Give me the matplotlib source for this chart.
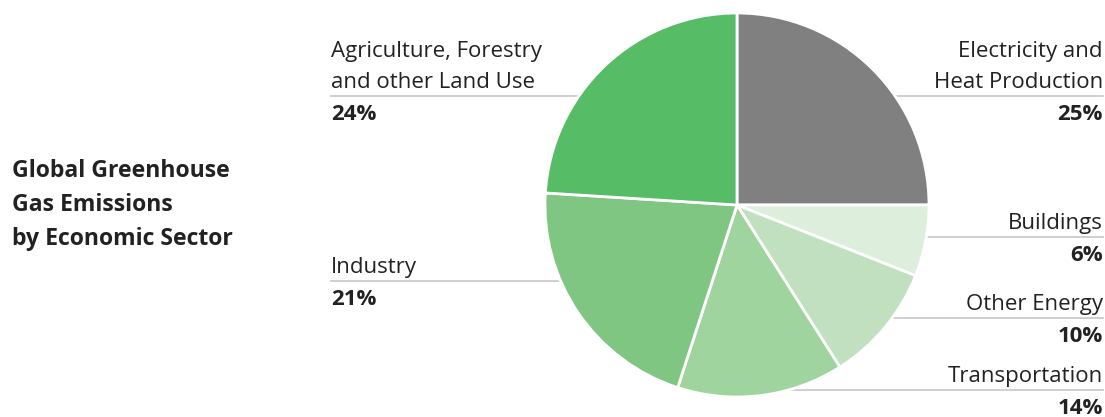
import matplotlib.pyplot as plt

plt.rcParams['font.family'] = ['Open Sans', 'DejaVu Sans']

# data
sectors = ['Electricity and\nHeat Production', 'Buildings', 'Other Energy',
           'Transportation', 'Industry', 'Agriculture, Forestry\nand other Land Use']
shares = [25, 6, 10, 14, 21, 24]
colors = ['#808080', '#ddeedc', '#c0e0bf', '#9fd49e', '#7fc682', '#56bc65']

# label placement (pixel y of leader line, side)
line_y = [96, 237, 318, 390, 281, 96]
side = ['right', 'right', 'right', 'right', 'left', 'left']

W, H = 1105, 417
fig = plt.figure(figsize=(W / 100, H / 100), dpi=100)
ax = fig.add_axes([0, 0, 1, 1])
ax.set_xlim(0, W)
ax.set_ylim(H, 0)
ax.set_aspect('equal')
ax.axis('off')

cx, cy, r = 737, 205, 192

# pie drawn with y-axis flipped, so counterclock=True gives clockwise on screen
ax.pie(shares, colors=colors, startangle=-90, counterclock=True,
       center=(cx, cy), radius=r, frame=True,
       wedgeprops=dict(edgecolor='white', linewidth=2, zorder=3))
ax.set_xlim(0, W)
ax.set_ylim(H, 0)
ax.axis('off')

fs = 16
for name, val, ly, sd in zip(sectors, shares, line_y, side):
    if sd == 'right':
        x0, x1, ha = cx, 1103, 'right'
        tx = 1103
    else:
        x0, x1, ha = 331, cx, 'left'
        tx = 331
    ax.plot([x0, x1], [ly, ly], color='#cccccc', lw=1.3, zorder=1)
    lines = name.split('\n')
    for i, t in enumerate(reversed(lines)):
        ax.text(tx, ly - 8 - 31 * i, t, ha=ha, va='baseline',
                fontsize=fs, color='#222222')
    ax.text(tx, ly + 24, f'{val}%', ha=ha, va='baseline', fontsize=fs,
            fontweight='bold', color='#222222')

title = ['Global Greenhouse', 'Gas Emissions', 'by Economic Sector']
for i, t in enumerate(title):
    ax.text(12, 177 + 34 * i, t, ha='left', va='baseline', fontsize=16.6,
            fontweight='bold', color='#222222')

fig.savefig('out.png', dpi=100)
